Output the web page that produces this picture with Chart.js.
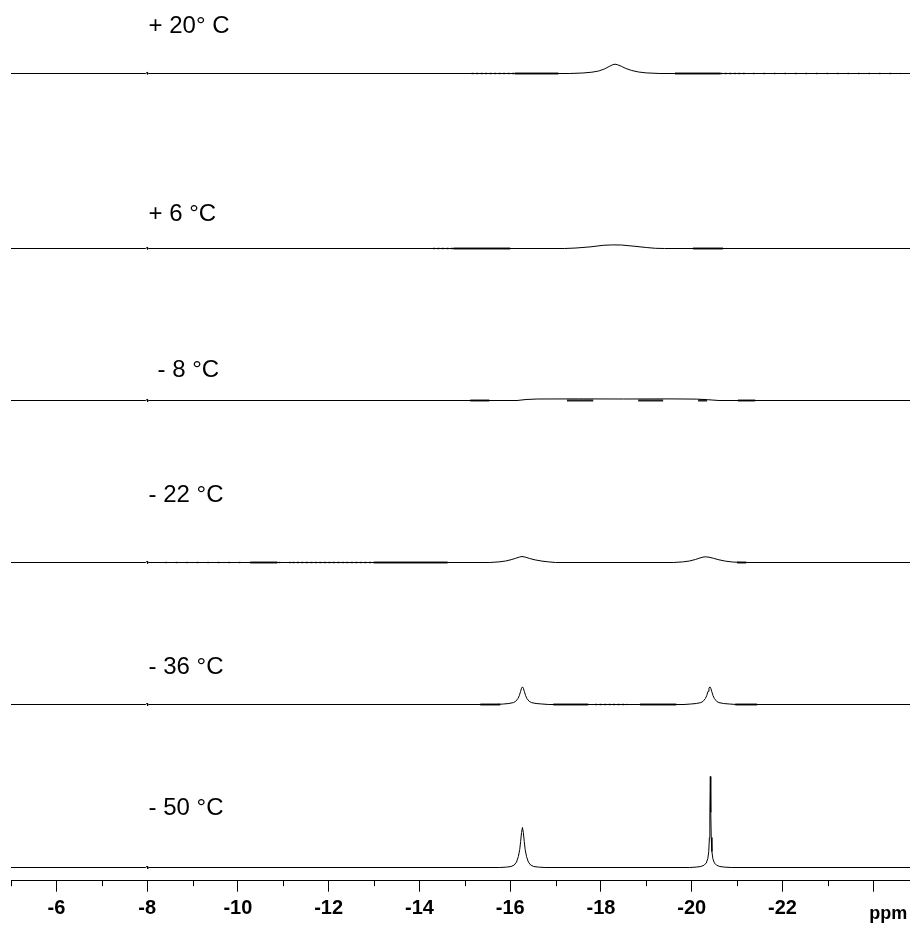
<!DOCTYPE html>
<html><head><meta charset="utf-8">
<script src="https://cdn.jsdelivr.net/npm/chart.js@4.4.1/dist/chart.umd.min.js"></script>
<style>html,body{margin:0;padding:0;background:#fff;}#wrap{width:910px;height:925px;}</style>
</head><body><div id="wrap"><canvas id="c" width="910" height="925"></canvas></div>
<script>
// ---------- DATA ----------
const ppmLimits = [-5.0, -24.81];
const majorTicks = [-24, -22, -20, -18, -16, -14, -12, -10, -8, -6];
const tickLabels = ['', '-22', '-20', '-18', '-16', '-14', '-12', '-10', '-8', '-6'];
const minorTicks = [-5, -7, -9, -11, -13, -15, -17, -19, -21, -23];
const axisTitle = 'ppm';
const temperatureLabels = ['+ 20\u00B0 C', '+ 6 \u00B0C', '- 8 \u00B0C', '- 22 \u00B0C', '- 36 \u00B0C', '- 50 \u00B0C'];

// spectra: [ppm, intensity]
const specP20 = [[-5.0,0],[-7.97,0],[-8.0,1.2],[-8.01,-0.8],[-8.03,0],
  [-17.3,0],[-17.6,0.5],[-17.8,1.3],[-17.95,2.5],[-18.08,4.6],[-18.18,7],[-18.25,8.6],[-18.31,9.3],[-18.37,8.7],[-18.45,7.2],[-18.55,5],[-18.68,3],[-18.83,1.5],[-19.0,0.6],[-19.3,0],[-24.81,0]];
const specP6 = [[-5.0,0],[-7.97,0],[-8.0,1.2],[-8.01,-0.8],[-8.03,0],
  [-17.2,0],[-17.45,0.5],[-17.76,1.6],[-18.05,3.2],[-18.25,3.6],[-18.45,3.5],[-18.75,2.2],[-19.0,1.0],[-19.2,0.2],[-19.4,0],[-24.81,0]];
const specM8 = [[-5.0,0],[-7.97,0],[-8.0,1.2],[-8.01,-1.2],[-8.03,0],
  [-16.15,0],[-16.35,1.0],[-16.6,1.5],[-17.5,1.6],[-18.5,1.5],[-19.5,1.6],[-20.1,1.4],[-20.35,0.8],[-20.6,0],[-24.81,0]];
const specM22 = [[-5.0,0],[-7.97,0],[-8.0,1.4],[-8.01,-1.0],[-8.03,0],
  [-15.55,0],[-15.75,0.6],[-15.9,1.5],[-16.02,2.8],[-16.12,4.2],[-16.2,5.4],[-16.26,6],[-16.33,5.4],[-16.43,4.0],[-16.55,2.6],[-16.7,1.4],[-16.85,0.6],[-17.0,0],
  [-19.6,0],[-19.8,0.6],[-19.95,1.5],[-20.08,3.0],[-20.18,4.5],[-20.25,5.4],[-20.3,5.7],[-20.38,5.3],[-20.48,4.2],[-20.6,2.7],[-20.75,1.3],[-20.9,0.5],[-21.1,0],[-24.81,0]];
const specM36 = [[-5.0,0],[-7.97,0],[-8.0,1.4],[-8.01,-1.2],[-8.03,0],
  [-15.7,0],[-15.85,0.5],[-15.97,1.0],[-16.07,1.9],[-16.12,3.1],[-16.17,5.9],[-16.2,8.8],[-16.23,13.2],[-16.25,16.3],[-16.27,17.6],[-16.29,16.3],[-16.31,13.2],[-16.34,8.8],[-16.37,5.9],[-16.42,3.1],[-16.47,1.9],[-16.57,1.0],[-16.7,0.5],[-16.85,0],
  [-19.83,0],[-19.98,0.5],[-20.1,1.0],[-20.2,1.9],[-20.25,3.1],[-20.3,5.9],[-20.33,8.8],[-20.36,13.2],[-20.38,16.3],[-20.40,17.6],[-20.42,16.3],[-20.44,13.2],[-20.47,8.8],[-20.5,5.9],[-20.55,3.1],[-20.6,1.9],[-20.7,1.0],[-20.83,0.5],[-20.98,0],[-24.81,0]];
const specM50 = [[-5.0,0],[-7.97,0],[-8.0,1.5],[-8.01,-1.5],[-8.03,0],
  [-15.77,0],[-15.92,0.4],[-16.02,1.0],[-16.09,2.5],[-16.14,5.5],[-16.18,11],[-16.21,18],[-16.23,26],[-16.25,35],[-16.27,40],[-16.29,35],[-16.31,26],[-16.33,18],[-16.36,11],[-16.4,5.5],[-16.45,2.5],[-16.52,1.0],[-16.62,0.4],[-16.77,0],
  [-19.95,0],[-20.1,0.4],[-20.2,1.0],[-20.27,2.2],[-20.32,4.5],[-20.355,9],[-20.375,16],[-20.39,30],[-20.4,55],[-20.41,91],[-20.42,55],[-20.43,30],[-20.445,16],[-20.465,9],[-20.5,4.5],[-20.55,2.2],[-20.62,1.0],[-20.72,0.4],[-20.87,0],[-24.81,0]];

// noisy baseline stretches, ppm ranges [from, to]
const noiseDenseP20 = [[-16.1,-17.06],[-19.63,-20.63]];
const noiseSparseP20 = [[-15.15,-16.1],[-20.63,-21.18]];
const noiseDotsP20 = [[-21.35,-24.6]];
const noiseDenseP6 = [[-14.75,-16.0],[-20.03,-20.69]];
const noiseSparseP6 = [[-14.3,-14.75]];
const noiseDotsP6 = [];
const noiseDenseM8 = [[-15.12,-15.54],[-17.25,-17.83],[-18.82,-19.37],[-20.14,-20.34],[-21.02,-21.4]];
const noiseSparseM8 = [];
const noiseDotsM8 = [];
const noiseDenseM22 = [[-10.27,-10.87],[-13.0,-14.62],[-21.0,-21.2]];
const noiseSparseM22 = [[-11.2,-13.0]];
const noiseDotsM22 = [[-8.4,-10.2],[-10.9,-11.2]];
const noiseDenseM36 = [[-15.34,-15.78],[-16.95,-17.72],[-18.86,-19.66],[-20.96,-21.44]];
const noiseSparseM36 = [[-17.87,-18.58]];
const noiseDotsM36 = [];

const spectra = [specP20, specP6, specM8, specM22, specM36, specM50];
const noiseDense = [noiseDenseP20, noiseDenseP6, noiseDenseM8, noiseDenseM22, noiseDenseM36, []];
const noiseSparse = [noiseSparseP20, noiseSparseP6, noiseSparseM8, noiseSparseM22, noiseSparseM36, []];
const noiseDots = [noiseDotsP20, noiseDotsP6, noiseDotsM8, noiseDotsM22, noiseDotsM36, []];

// ---------- LAYOUT ----------
const plotHeightUnits = 880.7;               // y units = px above the axis line
const traceOffsets = [807.2, 632.2, 480.2, 318.2, 176.2, 13.2];
const labelAnchorPpm = [-8.03, -8.03, -8.23, -8.03, -8.03, -8.03];
const labelAnchorY = [847.7, 660, 504, 378.4, 206.7, 65.7];

const FONT = '"Liberation Sans", Arial, Helvetica, sans-serif';

function bandPoints(ranges, off) {
  const pts = [];
  ranges.forEach(([a, b]) => { pts.push({x: a, y: off}, {x: b, y: off}, {x: b, y: null}); });
  return pts;
}

const datasets = [];
spectra.forEach((s, i) => {
  const off = traceOffsets[i];
  datasets.push({ data: s.map(([x, y]) => ({x, y: y + off})), borderColor: '#000', borderWidth: 1, pointRadius: 0, tension: 0, fill: false });
  datasets.push({ data: bandPoints(noiseDense[i], off), borderColor: '#222', borderWidth: 1.9, pointRadius: 0, spanGaps: false, fill: false });
  datasets.push({ data: bandPoints(noiseSparse[i], off), borderColor: '#333', borderWidth: 1.7, borderDash: [2, 2.5], pointRadius: 0, spanGaps: false, fill: false });
  datasets.push({ data: bandPoints(noiseDots[i], off), borderColor: '#444', borderWidth: 1.3, borderDash: [1.5, 9], pointRadius: 0, spanGaps: false, fill: false });
});

const decorPlugin = {
  id: 'decor',
  afterDraw(chart) {
    const ctx = chart.ctx, xs = chart.scales.x, ys = chart.scales.y;
    const bottom = chart.chartArea.bottom;
    ctx.save();
    ctx.strokeStyle = '#000'; ctx.lineWidth = 1;
    minorTicks.forEach(v => {
      const px = Math.round(xs.getPixelForValue(v)) + 0.5;
      ctx.beginPath(); ctx.moveTo(px, bottom); ctx.lineTo(px, bottom + 5.5); ctx.stroke();
    });
    ctx.fillStyle = '#000';
    ctx.textBaseline = 'alphabetic'; ctx.textAlign = 'left';
    ctx.font = '24px ' + FONT;
    temperatureLabels.forEach((t, i) => {
      ctx.fillText(t, xs.getPixelForValue(labelAnchorPpm[i]), ys.getPixelForValue(labelAnchorY[i]));
    });
    ctx.font = 'bold 18px ' + FONT;
    ctx.fillText(axisTitle, xs.getPixelForValue(-23.91), bottom + 38.5);
    ctx.restore();
  }
};

new Chart(document.getElementById('c'), {
  type: 'line',
  data: { datasets },
  options: {
    responsive: false, animation: false, events: [],
    parsing: true,
    layout: { padding: { left: 11, right: 0, top: 0, bottom: 0 } },
    plugins: { legend: { display: false }, tooltip: { enabled: false } },
    scales: {
      x: {
        type: 'linear', reverse: true, min: ppmLimits[1], max: ppmLimits[0],
        afterBuildTicks: (scale) => { scale.ticks = majorTicks.map(v => ({ value: v })); },
        afterFit: (scale) => { scale.height = 925 - plotHeightUnits; },
        border: { display: true, color: '#000', width: 1 },
        grid: { display: true, drawOnChartArea: false, drawTicks: true, tickLength: 11, tickColor: '#000', tickWidth: 1 },
        ticks: {
          autoSkip: false, maxRotation: 0, padding: 5, color: '#000',
          font: { family: FONT, size: 20, weight: 'bold' },
          callback: (v) => { const k = majorTicks.indexOf(v); return k >= 0 ? tickLabels[k] : ''; }
        }
      },
      y: { type: 'linear', display: false, min: 0, max: plotHeightUnits }
    }
  },
  plugins: [decorPlugin]
});
</script></body></html>
